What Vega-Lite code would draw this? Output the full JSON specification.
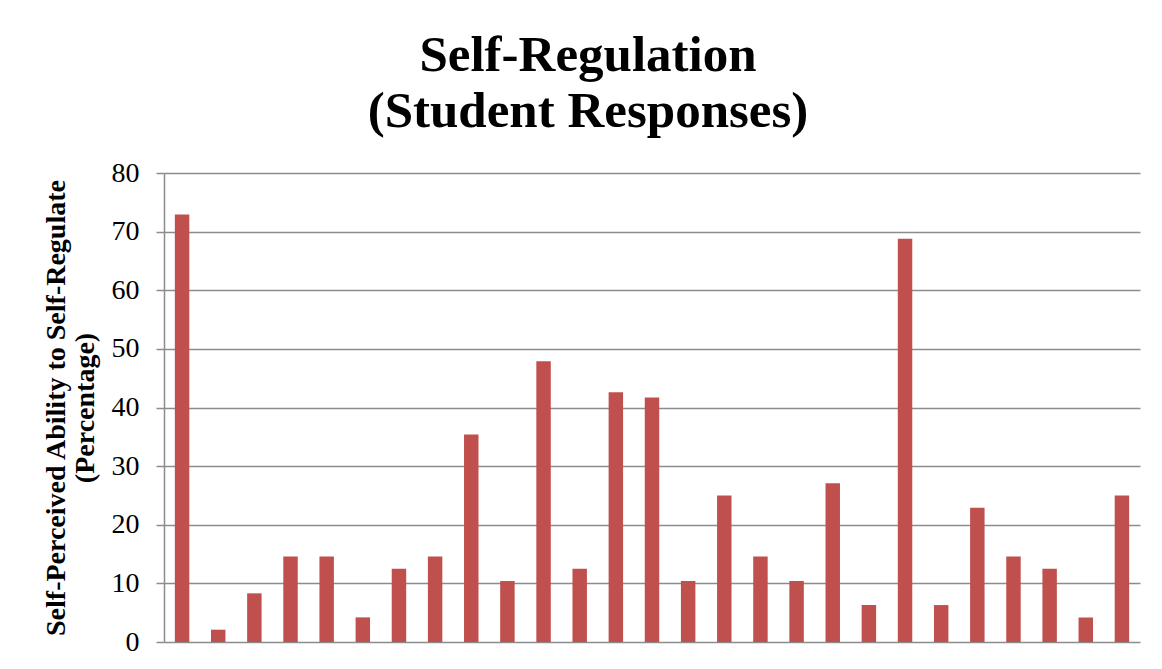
{
  "$schema": "https://vega.github.io/schema/vega-lite/v6.json",
  "autosize": {"type": "none"},
  "width": 976,
  "height": 469,
  "padding": {"left": 164, "top": 173, "right": 22, "bottom": 27},
  "background": "white",
  "title": {
    "text": ["Self-Regulation", "(Student Responses)"],
    "font": "Liberation Serif",
    "fontSize": 51,
    "fontWeight": "bold",
    "color": "black",
    "anchor": "middle",
    "dx": -64,
    "lineHeight": 56,
    "offset": 21
  },
  "data": {
    "values": [
      {"item": 1, "pct": 72.9},
      {"item": 2, "pct": 2.1},
      {"item": 3, "pct": 8.3},
      {"item": 4, "pct": 14.6},
      {"item": 5, "pct": 14.6},
      {"item": 6, "pct": 4.2},
      {"item": 7, "pct": 12.5},
      {"item": 8, "pct": 14.6},
      {"item": 9, "pct": 35.4},
      {"item": 10, "pct": 10.4},
      {"item": 11, "pct": 47.9},
      {"item": 12, "pct": 12.5},
      {"item": 13, "pct": 42.6},
      {"item": 14, "pct": 41.7},
      {"item": 15, "pct": 10.4},
      {"item": 16, "pct": 25.0},
      {"item": 17, "pct": 14.6},
      {"item": 18, "pct": 10.4},
      {"item": 19, "pct": 27.1},
      {"item": 20, "pct": 6.3},
      {"item": 21, "pct": 68.8},
      {"item": 22, "pct": 6.3},
      {"item": 23, "pct": 22.9},
      {"item": 24, "pct": 14.6},
      {"item": 25, "pct": 12.5},
      {"item": 26, "pct": 4.2},
      {"item": 27, "pct": 25.0}
    ]
  },
  "mark": {"type": "bar", "color": "#C0504D"},
  "encoding": {
    "x": {
      "field": "item",
      "type": "ordinal",
      "scale": {"paddingInner": 0.6, "paddingOuter": 0.3},
      "axis": null
    },
    "y": {
      "field": "pct",
      "type": "quantitative",
      "scale": {"domain": [0, 80], "nice": false},
      "axis": {
        "values": [0, 10, 20, 30, 40, 50, 60, 70, 80],
        "title": ["Self-Perceived Ability to Self-Regulate", "(Percentage)"],
        "titleFont": "Liberation Serif",
        "titleFontSize": 28,
        "titleFontWeight": "bold",
        "titleColor": "black",
        "titlePadding": 12,
        "titleLineHeight": 29,
        "labelFont": "Liberation Serif",
        "labelFontSize": 28,
        "labelColor": "black",
        "labelPadding": 17,
        "tickSize": 8,
        "tickColor": "#8c8c8c",
        "tickWidth": 1.5,
        "domainColor": "#8c8c8c",
        "domainWidth": 1.5,
        "gridColor": "#8c8c8c",
        "gridWidth": 1.5
      }
    }
  },
  "config": {"view": {"stroke": null}}
}
